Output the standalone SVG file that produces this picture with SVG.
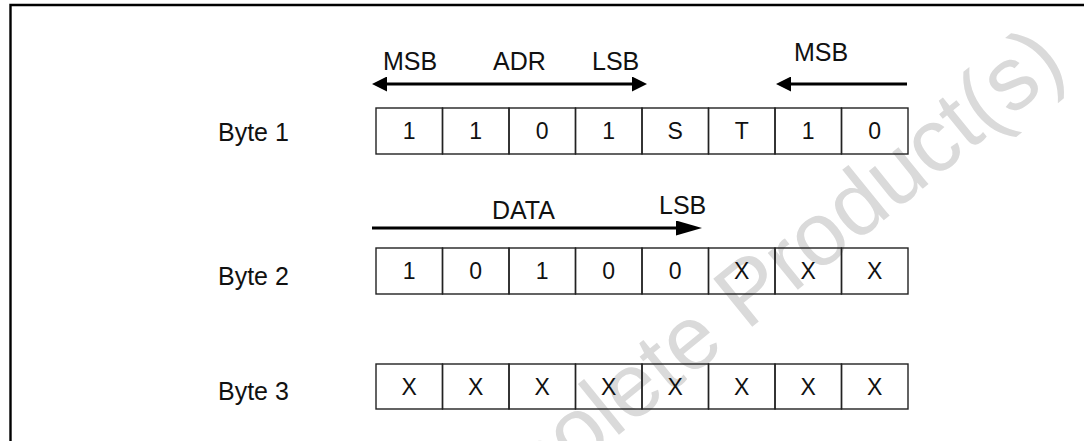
<svg xmlns="http://www.w3.org/2000/svg" width="1084" height="441" viewBox="0 0 1084 441">
<style>
.lbl{font-family:"Liberation Sans",Arial,sans-serif;font-size:25px;fill:#111}
.bit{font-family:"Liberation Sans",Arial,sans-serif;font-size:23px;fill:#111;text-anchor:middle}
.cell{fill:none;stroke:#222;stroke-width:1.4}
.arr{stroke:#000;stroke-width:3;fill:none}
.wm{font-family:"Liberation Sans",Arial,sans-serif;font-size:90px;fill:#dadada;text-anchor:middle}
</style>
<defs>
<marker id="ah" viewBox="0 0 15 15" refX="8" refY="7.5" markerWidth="15" markerHeight="15" markerUnits="userSpaceOnUse" orient="auto-start-reverse"><path d="M0,0 L15,7.5 L0,15 Z" fill="#000"/></marker>
<marker id="ahl" viewBox="0 0 26 15" refX="14" refY="7.5" markerWidth="26" markerHeight="15" markerUnits="userSpaceOnUse" orient="auto"><path d="M0,0 L26,7.5 L0,15 Z" fill="#000"/></marker>
</defs>
<rect width="1084" height="441" fill="#fff"/>
<text class="wm" transform="translate(758,322) rotate(-39)">Obsolete Product(s)</text>
<path d="M10.5,441 V5 H1084" fill="none" stroke="#000" stroke-width="2.4"/>
<g id="byte1">
<text class="lbl" x="218" y="141">Byte 1</text>
<rect class="cell" x="376" y="108" width="66.5" height="46"/>
<rect class="cell" x="442.5" y="108" width="66.5" height="46"/>
<rect class="cell" x="509" y="108" width="66.5" height="46"/>
<rect class="cell" x="575.5" y="108" width="66.5" height="46"/>
<rect class="cell" x="642" y="108" width="66.5" height="46"/>
<rect class="cell" x="708.5" y="108" width="66.5" height="46"/>
<rect class="cell" x="775" y="108" width="66.5" height="46"/>
<rect class="cell" x="841.5" y="108" width="66.5" height="46"/>
<text class="bit" x="409.25" y="139">1</text>
<text class="bit" x="475.75" y="139">1</text>
<text class="bit" x="542.25" y="139">0</text>
<text class="bit" x="608.75" y="139">1</text>
<text class="bit" x="675.25" y="139">S</text>
<text class="bit" x="741.75" y="139">T</text>
<text class="bit" x="808.25" y="139">1</text>
<text class="bit" x="874.75" y="139">0</text>
</g>
<g id="byte2">
<text class="lbl" x="218" y="285">Byte 2</text>
<rect class="cell" x="376" y="248" width="66.5" height="46"/>
<rect class="cell" x="442.5" y="248" width="66.5" height="46"/>
<rect class="cell" x="509" y="248" width="66.5" height="46"/>
<rect class="cell" x="575.5" y="248" width="66.5" height="46"/>
<rect class="cell" x="642" y="248" width="66.5" height="46"/>
<rect class="cell" x="708.5" y="248" width="66.5" height="46"/>
<rect class="cell" x="775" y="248" width="66.5" height="46"/>
<rect class="cell" x="841.5" y="248" width="66.5" height="46"/>
<text class="bit" x="409.25" y="279">1</text>
<text class="bit" x="475.75" y="279">0</text>
<text class="bit" x="542.25" y="279">1</text>
<text class="bit" x="608.75" y="279">0</text>
<text class="bit" x="675.25" y="279">0</text>
<text class="bit" x="741.75" y="279">X</text>
<text class="bit" x="808.25" y="279">X</text>
<text class="bit" x="874.75" y="279">X</text>
</g>
<g id="byte3">
<text class="lbl" x="218" y="400">Byte 3</text>
<rect class="cell" x="376" y="364" width="66.5" height="45"/>
<rect class="cell" x="442.5" y="364" width="66.5" height="45"/>
<rect class="cell" x="509" y="364" width="66.5" height="45"/>
<rect class="cell" x="575.5" y="364" width="66.5" height="45"/>
<rect class="cell" x="642" y="364" width="66.5" height="45"/>
<rect class="cell" x="708.5" y="364" width="66.5" height="45"/>
<rect class="cell" x="775" y="364" width="66.5" height="45"/>
<rect class="cell" x="841.5" y="364" width="66.5" height="45"/>
<text class="bit" x="409.25" y="395">X</text>
<text class="bit" x="475.75" y="395">X</text>
<text class="bit" x="542.25" y="395">X</text>
<text class="bit" x="608.75" y="395">X</text>
<text class="bit" x="675.25" y="395">X</text>
<text class="bit" x="741.75" y="395">X</text>
<text class="bit" x="808.25" y="395">X</text>
<text class="bit" x="874.75" y="395">X</text>
</g>
<g id="labels">
<text class="lbl" x="383" y="70">MSB</text>
<text class="lbl" x="493" y="70">ADR</text>
<text class="lbl" x="592" y="70">LSB</text>
<text class="lbl" x="794" y="61">MSB</text>
<text class="lbl" x="492" y="219">DATA</text>
<text class="lbl" x="659" y="214">LSB</text>
</g>
<g id="connectors">
<line class="arr" x1="379" y1="84" x2="640" y2="84" marker-start="url(#ah)" marker-end="url(#ah)"/>
<line class="arr" x1="907" y1="84" x2="783" y2="84" marker-end="url(#ah)"/>
<line class="arr" x1="372" y1="228" x2="690" y2="228" marker-end="url(#ahl)"/>
</g>
</svg>
